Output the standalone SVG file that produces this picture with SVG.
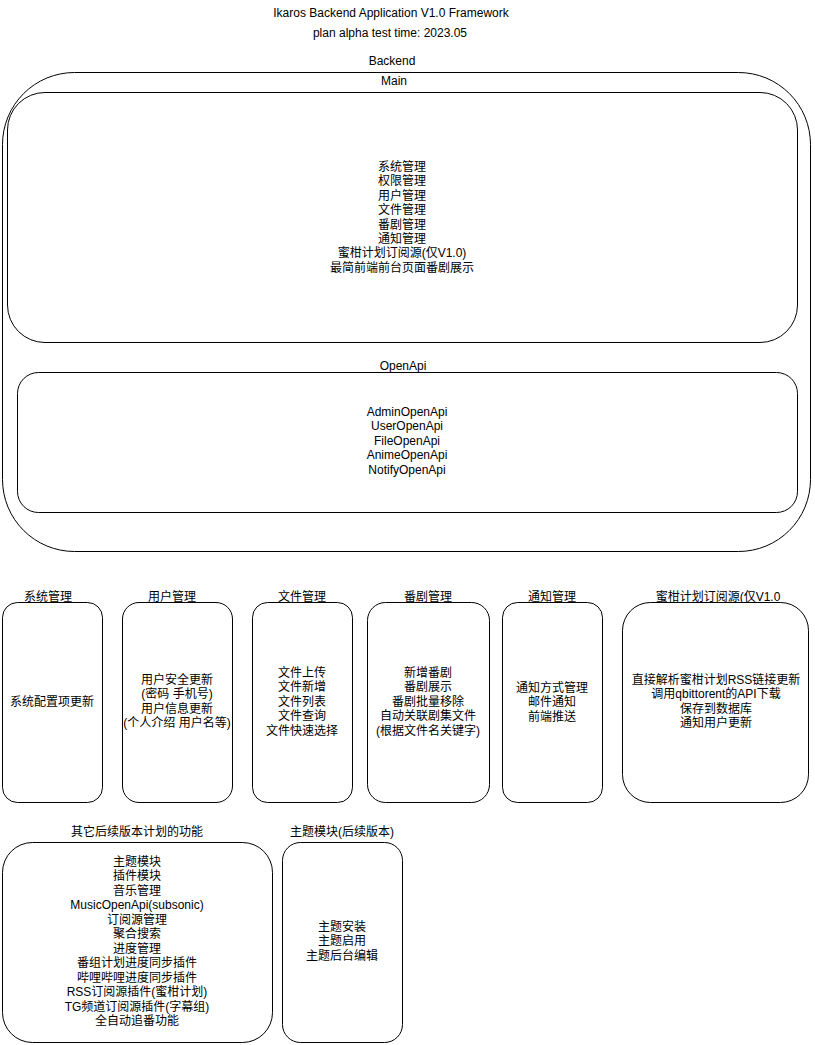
<svg xmlns="http://www.w3.org/2000/svg" width="815" height="1045" viewBox="0 0 815 1045">
<style>
text{font-family:"Liberation Sans","Noto Sans CJK SC",Arial,sans-serif;font-size:12px;fill:#000;text-anchor:middle}
rect{fill:#fff;stroke:#000;stroke-width:1}
</style>
<rect x="0" y="0" width="815" height="1045" style="stroke:none"/>
<g id="title">
<text x="391" y="17">Ikaros Backend Application V1.0 Framework</text>
<text x="390" y="37">plan alpha test time: 2023.05</text>
</g>
<g id="backend">
<text x="392" y="65">Backend</text>
<rect x="2.5" y="72.5" width="808" height="479" rx="72" ry="72"/>
<text x="394" y="85">Main</text>
</g>
<g id="main">
<rect x="7.5" y="92.5" width="790" height="250" rx="37.5" ry="37.5"/>
<text x="402" y="171"><tspan x="402">系统管理</tspan><tspan x="402" dy="14.4">权限管理</tspan><tspan x="402" dy="14.4">用户管理</tspan><tspan x="402" dy="14.4">文件管理</tspan><tspan x="402" dy="14.4">番剧管理</tspan><tspan x="402" dy="14.4">通知管理</tspan><tspan x="402" dy="14.4">蜜柑计划订阅源(仅V1.0)</tspan><tspan x="402" dy="14.4">最简前端前台页面番剧展示</tspan></text>
</g>
<g id="openapi">
<text x="403" y="370">OpenApi</text>
<rect x="17.5" y="372.5" width="780" height="140" rx="21" ry="21"/>
<text x="407" y="416"><tspan x="407">AdminOpenApi</tspan><tspan x="407" dy="14.4">UserOpenApi</tspan><tspan x="407" dy="14.4">FileOpenApi</tspan><tspan x="407" dy="14.4">AnimeOpenApi</tspan><tspan x="407" dy="14.4">NotifyOpenApi</tspan></text>
</g>
<g id="sys">
<text x="48" y="601">系统管理</text>
<rect x="2.5" y="602.5" width="100" height="200" rx="15" ry="15"/>
<text x="52" y="706">系统配置项更新</text>
</g>
<g id="user">
<text x="172" y="601">用户管理</text>
<rect x="122.5" y="602.5" width="110" height="200" rx="16.5" ry="16.5"/>
<text x="177" y="684"><tspan x="177">用户安全更新</tspan><tspan x="177" dy="14.4">(密码 手机号)</tspan><tspan x="177" dy="14.4">用户信息更新</tspan><tspan x="177" dy="14.4">(个人介绍 用户名等)</tspan></text>
</g>
<g id="file">
<text x="302" y="601">文件管理</text>
<rect x="252.5" y="602.5" width="100" height="200" rx="15" ry="15"/>
<text x="302" y="677"><tspan x="302">文件上传</tspan><tspan x="302" dy="14.4">文件新增</tspan><tspan x="302" dy="14.4">文件列表</tspan><tspan x="302" dy="14.4">文件查询</tspan><tspan x="302" dy="14.4">文件快速选择</tspan></text>
</g>
<g id="anime">
<text x="428" y="601">番剧管理</text>
<rect x="367.5" y="602.5" width="122" height="200" rx="18" ry="18"/>
<text x="428" y="677"><tspan x="428">新增番剧</tspan><tspan x="428" dy="14.4">番剧展示</tspan><tspan x="428" dy="14.4">番剧批量移除</tspan><tspan x="428" dy="14.4">自动关联剧集文件</tspan><tspan x="428" dy="14.4">(根据文件名关键字)</tspan></text>
</g>
<g id="notify">
<text x="552" y="601">通知管理</text>
<rect x="502.5" y="602.5" width="100" height="200" rx="15" ry="15"/>
<text x="552" y="692"><tspan x="552">通知方式管理</tspan><tspan x="552" dy="14.4">邮件通知</tspan><tspan x="552" dy="14.4">前端推送</tspan></text>
</g>
<g id="mikan">
<text x="718" y="601">蜜柑计划订阅源(仅V1.0</text>
<rect x="622.5" y="602.5" width="186" height="200" rx="28" ry="28"/>
<text x="716" y="684"><tspan x="716">直接解析蜜柑计划RSS链接更新</tspan><tspan x="716" dy="14.4">调用qbittorent的API下载</tspan><tspan x="716" dy="14.4">保存到数据库</tspan><tspan x="716" dy="14.4">通知用户更新</tspan></text>
</g>
<g id="future">
<text x="137" y="836">其它后续版本计划的功能</text>
<rect x="2.5" y="842.5" width="270" height="200" rx="30" ry="30"/>
<text x="137" y="866"><tspan x="137">主题模块</tspan><tspan x="137" dy="14.45">插件模块</tspan><tspan x="137" dy="14.45">音乐管理</tspan><tspan x="137" dy="14.45">MusicOpenApi(subsonic)</tspan><tspan x="137" dy="14.45">订阅源管理</tspan><tspan x="137" dy="14.45">聚合搜索</tspan><tspan x="137" dy="14.45">进度管理</tspan><tspan x="137" dy="14.45">番组计划进度同步插件</tspan><tspan x="137" dy="14.45">哔哩哔哩进度同步插件</tspan><tspan x="137" dy="14.45">RSS订阅源插件(蜜柑计划)</tspan><tspan x="137" dy="14.45">TG频道订阅源插件(字幕组)</tspan><tspan x="137" dy="14.45">全自动追番功能</tspan></text>
</g>
<g id="theme">
<text x="342" y="836">主题模块(后续版本)</text>
<rect x="282.5" y="842.5" width="120" height="200" rx="18" ry="18"/>
<text x="342" y="931"><tspan x="342">主题安装</tspan><tspan x="342" dy="14.4">主题启用</tspan><tspan x="342" dy="14.4">主题后台编辑</tspan></text>
</g>
<g id="connectors"/>
</svg>
